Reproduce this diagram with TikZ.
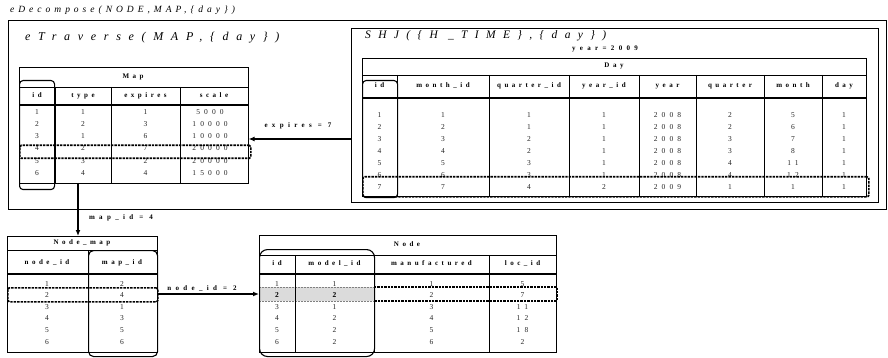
\documentclass[tikz,border=0pt]{standalone}
\usepackage{fontspec}
\setmainfont{Liberation Serif}
\newfontfamily\hfont[LetterSpace=50]{Liberation Serif}
\newfontfamily\lfont[LetterSpace=62]{Liberation Serif}
\newfontfamily\nfont[LetterSpace=55]{Liberation Serif}
\newfontfamily\tfont[LetterSpace=64]{Liberation Serif}
\newfontfamily\dfont[LetterSpace=42]{Liberation Serif}
\usetikzlibrary{arrows.meta}
\begin{document}
\begin{tikzpicture}[x=1pt,y=-1pt,
  frame/.style={draw, inner sep=0pt, anchor=north west},
  tbl/.style={frame, line width=0.6pt},
  gl/.style={line width=0.6pt},
  hl/.style={line width=1.2pt},
  hd/.style={font=\hfont\bfseries\fontsize{7}{8}\selectfont, inner sep=0pt, text height=4.6pt, text depth=1.4pt},
  lb/.style={hd, font=\lfont\bfseries\fontsize{7}{8}\selectfont},
  nm/.style={font=\nfont\fontsize{7.5}{8}\selectfont, inner sep=0pt, text=black!85, text height=5pt, text depth=0.5pt},
  ttl/.style={font=\tfont\itshape\fontsize{12}{13}\selectfont, inner sep=0pt, anchor=west},
  idbox/.style={draw, line width=1.1pt, rounded corners=3.5pt},
  sel/.style={draw, line width=1.7pt, dash pattern=on 2.4pt off 1pt},
  arr/.style={line width=1.4pt, -{Latex[length=6pt,width=5pt]}}]
\useasboundingbox (0,0) rectangle (888,358);

% ---- titles and frames ----
\node[ttl, font=\dfont\itshape\fontsize{9.5}{10}\selectfont] (tdec) at (10,10) {eDecompose(NODE,MAP,\{day\})};
\node[frame, line width=0.9pt, minimum width=878pt, minimum height=189pt] (outer) at (8,20) {};
\node[ttl] (ttrav) at (25,38) {eTraverse(MAP,\{day\})};
\node[frame, line width=0.8pt, minimum width=527pt, minimum height=174pt] (shj) at (351,28) {};
\node[ttl, font=\tfont\itshape\fontsize{11.5}{12}\selectfont] (tshj) at (365,36) {SHJ(\{H \_TIME\},\{day\})};
\node[lb] (tyear) at (605,49) {year=2009};

% ---- Map table ----
\node[tbl, minimum width=229pt, minimum height=116pt] (map) at (19,67) {};
\draw[gl] (19,87) -- (248,87);
\draw[hl] (19,105) -- (248,105);
\foreach \x in {55,111,180} \draw[gl] (\x,87) -- (\x,183);
\node[hd] (maptitle) at (133,77) {Map};
\foreach \x/\t [count=\i] in {37/id,83/type,145.5/expires,214/scale}
  \node[hd] (maph\i) at (\x,96) {\t};
\foreach \y/\a/\b/\c/\d [count=\i] in {112/1/1/1/5000,124.2/2/2/3/10000,136.4/3/1/6/10000,148.6/4/2/7/20000,160.8/5/3/2/20000,173/6/4/4/15000}{
  \node[nm] (m\i-1) at (37,\y) {\a};
  \node[nm] (m\i-2) at (83,\y) {\b};
  \node[nm] (m\i-3) at (145.5,\y) {\c};
  \node[nm] (m\i-4) at (210,\y) {\d};
}
\node[idbox, inner sep=0pt, minimum width=35pt, minimum height=109pt, anchor=north west] (mapid) at (19,80) {};
\node[sel, rounded corners=1.5pt, inner sep=0pt, minimum width=231pt, minimum height=13pt, anchor=north west] (mapsel) at (19,144.5) {};

% ---- Day table ----
\node[tbl, minimum width=504pt, minimum height=138pt] (day) at (362,58) {};
\draw[gl] (362,75) -- (866,75);
\draw[hl] (362,98) -- (866,98);
\foreach \x in {397,489,569,639,696,764,822} \draw[gl] (\x,75) -- (\x,196);
\node[hd] (daytitle) at (614,66) {Day};
\foreach \x/\t [count=\i] in {379.5/id,443/month\_id,529/quarter\_id,604/year\_id,667.5/year,730/quarter,793/month,844/day}
  \node[hd] (dayh\i) at (\x,86) {\t};
\foreach \y/\a/\b/\c/\d/\e/\f/\g/\h [count=\i] in {115/1/1/1/1/2008/2/5/1,127/2/2/1/1/2008/2/6/1,139/3/3/2/1/2008/3/7/1,151/4/4/2/1/2008/3/8/1,163/5/5/3/1/2008/4/11/1,175/6/6/3/1/2008/4/12/1,187/7/7/4/2/2009/1/1/1}{
  \node[nm] (d\i-1) at (379.5,\y) {\a};
  \node[nm] (d\i-2) at (443,\y) {\b};
  \node[nm] (d\i-3) at (529,\y) {\c};
  \node[nm] (d\i-4) at (604,\y) {\d};
  \node[nm] (d\i-5) at (667.5,\y) {\e};
  \node[nm] (d\i-6) at (730,\y) {\f};
  \node[nm] (d\i-7) at (793,\y) {\g};
  \node[nm] (d\i-8) at (844,\y) {\h};
}
\node[idbox, inner sep=0pt, minimum width=35pt, minimum height=117pt, anchor=north west] (dayid) at (362,80) {};
\node[sel, rounded corners=2pt, inner sep=0pt, minimum width=506pt, minimum height=20pt, anchor=north west] (daysel) at (362,176) {};

% ---- Node_map table ----
\node[tbl, minimum width=150pt, minimum height=116pt] (nodemap) at (7,236) {};
\draw[gl] (7,250) -- (157,250);
\draw[hl] (7,274) -- (157,274);
\draw[gl] (88,250) -- (88,352);
\node[hd] (nmtitle) at (82,242.5) {Node\_map};
\node[hd] (nmh1) at (47,263) {node\_id};
\node[hd] (nmh2) at (122,263) {map\_id};
\foreach \y/\a/\b [count=\i] in {284/1/2,295/2/4,307/3/1,318.5/4/3,330/5/5,342/6/6}{
  \node[nm] (n\i-1) at (47,\y) {\a};
  \node[nm] (n\i-2) at (122,\y) {\b};
}
\node[idbox, rounded corners=5pt, inner sep=0pt, minimum width=69pt, minimum height=106pt, anchor=north west] (nmid) at (88,250) {};
\node[sel, rounded corners=1.5pt, inner sep=0pt, minimum width=150pt, minimum height=14pt, anchor=north west] (nmsel) at (7,287) {};

% ---- Node table ----
\fill[gray!28] (259,287) rectangle (374,301);
\draw[gray, densely dotted, line width=0.5pt] (259,287) rectangle (374,301);
\node[tbl, minimum width=297pt, minimum height=117pt] (node) at (259,235) {};
\draw[gl] (259,255) -- (556,255);
\draw[hl] (259,274) -- (556,274);
\foreach \x in {295,374,489} \draw[gl] (\x,255) -- (\x,352);
\node[hd] (ndtitle) at (407,245) {Node};
\foreach \x/\t [count=\i] in {277/id,334.5/model\_id,431.5/manufactured,522.5/loc\_id}
  \node[hd] (ndh\i) at (\x,264) {\t};
\foreach \y/\a/\b/\c/\d [count=\i] in {284/1/1/1/5,295/2/2/2/7,307/3/1/3/11,318.5/4/2/4/12,330/5/2/5/18,342/6/2/6/2}{
  \node[nm] (nd\i-1) at (277,\y) {\a};
  \node[nm] (nd\i-2) at (334.5,\y) {\b};
  \node[nm] (nd\i-3) at (431.5,\y) {\c};
  \node[nm] (nd\i-4) at (522.5,\y) {\d};
}
\node[nm, font=\nfont\bfseries\fontsize{7.5}{8}\selectfont, text=black, fill=gray!28] at (nd2-1) {2};
\node[nm, font=\nfont\bfseries\fontsize{7.5}{8}\selectfont, text=black, fill=gray!28] at (nd2-2) {2};
\draw[red!65, line width=0.9pt] (374,287) -- (374,301);
\node[idbox, rounded corners=8pt, inner sep=0pt, minimum width=115pt, minimum height=107pt, anchor=north west] (ndid) at (259,249) {};
\draw[sel] (374,287) -- (557,287) -- (557,301) -- (374,301);

% ---- connectors ----
\coordinate (expy) at (300,139);
\draw[arr] (shj.west |- expy) -- (map.east |- expy);
\node[lb] (lexp) at (298,126) {expires = 7};
\coordinate (mapdown) at (78,183);
\draw[arr] (mapdown) -- (mapdown |- nodemap.north);
\node[lb] (lmap) at (121,218) {map\_id = 4};
\coordinate (ndy) at (200,294);
\draw[arr] (nodemap.east |- ndy) -- (node.west |- ndy);
\node[lb] (lnd) at (202,288.5) {node\_id = 2};
\end{tikzpicture}
\end{document}
